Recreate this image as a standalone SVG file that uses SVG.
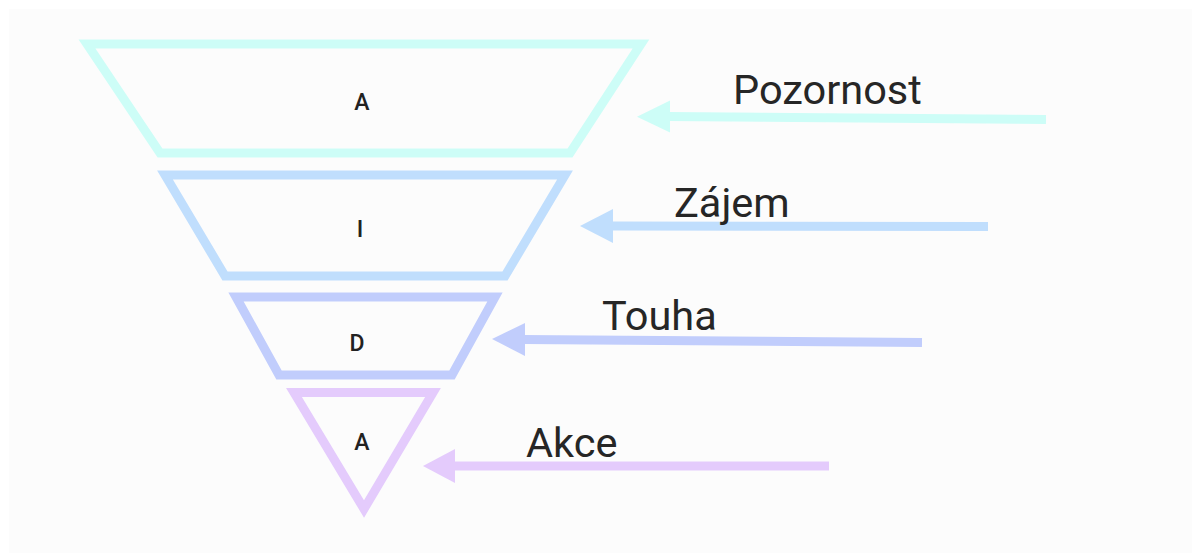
<svg xmlns="http://www.w3.org/2000/svg" width="1192" height="553" viewBox="0 0 1192 553">
  <style>
    .shape { fill: none; stroke-width: 9; stroke-linejoin: miter; stroke-miterlimit: 10; }
    .lbl { font-family: Roboto, "Liberation Sans", sans-serif; font-size: 23px; font-weight: 500; fill: #222222; text-anchor: middle; }
    .side { font-family: Roboto, "Liberation Sans", sans-serif; font-size: 41.5px; fill: #262626; }
    .c1 { stroke: #cdfdf7; } .f1 { fill: #cdfdf7; }
    .c2 { stroke: #c0defd; } .f2 { fill: #c0defd; }
    .c3 { stroke: #c1cdfc; } .f3 { fill: #c1cdfc; }
    .c4 { stroke: #e4cbfc; } .f4 { fill: #e4cbfc; }
    .line { stroke-width: 9; fill: none; }
  </style>
  <rect x="0" y="0" width="1192" height="553" fill="#ffffff"/>
  <rect x="9" y="9" width="1183" height="544" fill="#fcfcfc"/>

  <g id="node-attention">
    <polygon class="shape c1" points="87,44 641,44 570,153 160,153"/>
    <text class="lbl" x="362" y="110">A</text>
  </g>
  <g id="node-interest">
    <polygon class="shape c2" points="165,175 565,175 505,276 225,276"/>
    <text class="lbl" x="360" y="237">I</text>
  </g>
  <g id="node-desire">
    <polygon class="shape c3" points="236,297 495,297 452,375 279,375"/>
    <text class="lbl" x="357" y="351">D</text>
  </g>
  <g id="node-action">
    <polygon class="shape c4" points="294,392.5 433,392.5 364,509"/>
    <text class="lbl" x="362" y="450">A</text>
  </g>

  <g id="connectors">
    <line class="line c1" x1="1046" y1="119.5" x2="668" y2="116.5"/>
    <polygon class="f1" points="637,116.7 670,100.5 670,132.5"/>
    <line class="line c2" x1="988" y1="226.5" x2="611" y2="226"/>
    <polygon class="f2" points="580,226 613,209 613,243"/>
    <line class="line c3" x1="922" y1="342.5" x2="523" y2="339.5"/>
    <polygon class="f3" points="492,339 525,323 525,356"/>
    <line class="line c4" x1="829" y1="466" x2="453" y2="466"/>
    <polygon class="f4" points="423,466 455,449 455,483"/>
  </g>

  <g id="labels">
    <text class="side" x="733" y="104">Pozornost</text>
    <text class="side" x="674" y="217">Zájem</text>
    <text class="side" x="602" y="330">Touha</text>
    <text class="side" x="526" y="457">Akce</text>
  </g>
</svg>
